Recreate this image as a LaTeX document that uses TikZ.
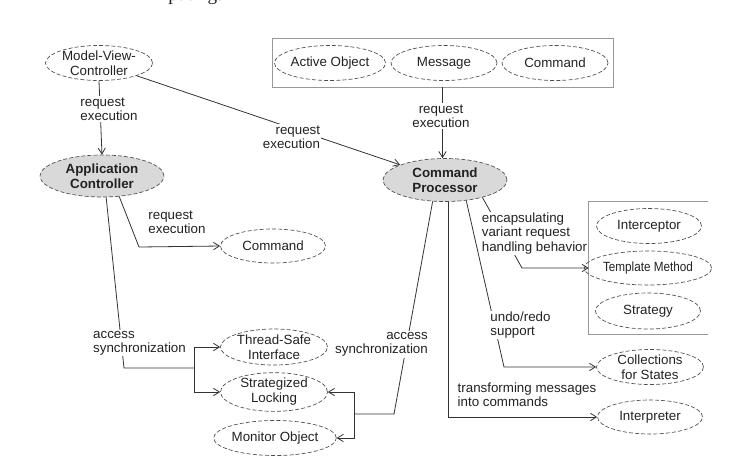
\documentclass[tikz,border=0pt]{standalone}
\usepackage{fontspec}
\setmainfont{Liberation Sans}
\newfontfamily\serifbook{Liberation Serif}
\usepackage{graphicx}
\usetikzlibrary{shapes.geometric,arrows.meta}
\definecolor{inkc}{HTML}{222222}
\definecolor{linec}{HTML}{333333}
\definecolor{dashc}{HTML}{4D4D4D}
\definecolor{boxc}{HTML}{999999}
\definecolor{fillc}{HTML}{D9D9D9}
\begin{document}
\begin{tikzpicture}[x=0.75pt,y=-0.75pt,
 el/.style 2 args={ellipse,draw=dashc,dash pattern=on 3pt off 1.6pt,line width=0.5pt,
   minimum width={#1*0.75pt},minimum height={#2*0.75pt},inner sep=0pt,align=center,
   font=\fontsize{10}{11.2}\selectfont,text=inkc},
 keyel/.style={fill=fillc,font=\fontsize{10}{11.2}\selectfont\bfseries},
 lbl/.style={fill=white,inner sep=0.8pt,font=\fontsize{10}{10.6}\selectfont,text=inkc},
 conn/.style={draw=linec,line width=0.6pt},
 arr/.style={conn,-{Straight Barb[length=4.5pt,width=5.5pt]}},
 grp/.style={draw=boxc,line width=0.6pt}]
\useasboundingbox (0,0) rectangle (756,469);

% cut-off text at the top
\node[anchor=base west,inner sep=0pt,font=\serifbook\fontsize{14.4}{16}\selectfont,text=inkc] (topt) at (168,0.8) {puting.};

% group boxes
\node[grp,rectangle,minimum width={341*0.75pt},minimum height={49*0.75pt},inner sep=0pt] (box1) at (442.5,62.5) {};
\node[rectangle,minimum width={119*0.75pt},minimum height={132*0.75pt},inner sep=0pt] (box2) at (648.5,268) {};
\draw[grp] (box2.north east) -- (box2.north west) -- (box2.south west) -- (box2.south east);

% nodes
\node[el={107}{35}] (mvc) at (99,63) {Model-View-\\Controller};
\node[el={124}{42},keyel] (ac) at (102,176) {Application\\Controller};
\node[el={105}{35}] (ao) at (330,63) {Active Object};
\node[el={106}{35}] (msg) at (444,63) {Message};
\node[el={106}{35}] (cmdT) at (555,63) {Command};
\node[el={124}{43},keyel] (cp) at (445,180) {Command\\Processor};
\node[el={105}{34}] (cmdM) at (273,246) {Command};
\node[el={107}{36}] (tsi) at (274,347) {Thread-Safe\\Interface};
\node[el={107}{35}] (sl) at (274,392) {Strategized\\Locking};
\node[el={105}{35}] (mo) at (275,438) {Monitor Object};
\node[el={105}{35}] (ic) at (649,226) {Interceptor};
\node[el={105}{34}] (tm) at (648,268) {\scalebox{0.88}[1]{Template Method}};
\node[el={105}{36}] (st) at (648,311) {Strategy};
\node[el={107}{35}] (cs) at (650,367) {Collections\\for States};
\node[el={105}{34}] (ip) at (650,417) {Interpreter};

% connectors
\draw[arr] (mvc.south) -- (ac.north);
\node[lbl,align=left] (l1) at (109,109) {request\\execution};

\draw[arr] (mvc) -- (cp);
\node[lbl,align=right] (l2) at (291.5,137) {request\\execution};

\draw[arr] (box1.south) -- (box1.south |- cp.north);
\node[lbl,align=center] (l3) at (441,116) {request\\execution};

\coordinate (b1) at (139,247);
\draw[arr] (ac.-50) -- (b1) -- (cmdM.west);
\node[lbl,align=left] (l4) at (177,222) {request\\execution};

\coordinate (k1) at (124,368);
\coordinate (j1) at (194,368);
\draw[conn] (ac.-79) -- (k1) -- (j1);
\draw[arr] (j1) |- (tsi.west);
\draw[arr] (j1) |- (sl.west);
\node[lbl,align=left] (l5) at (139.5,343) {access\\synchronization};

\coordinate (k2) at (394,414);
\coordinate (j2) at (354,414);
\draw[conn] (cp.-120) -- (k2) -- (j2);
\draw[arr] (j2) |- (sl.east);
\draw[arr] (j2) |- (mo.east);
\node[lbl,align=right] (l6) at (381.5,344.5) {access\\synchronization};

\coordinate (k4) at (522,268);
\draw[arr] (cp.-25) -- (k4) -- (box2.west);
\node[lbl,align=left] (l7) at (534.5,233.5) {encapsulating\\variant request\\handling behavior};

\coordinate (k3) at (504,367);
\draw[arr] (cp.-44) -- (k3) -- (cs.west);
\node[lbl,align=left] (l8) at (520.5,325) {undo/redo\\support};

\draw[arr] (cp.-82) |- (ip.west);
\node[lbl,align=left] (l9) at (527,395) {transforming messages\\into commands};
\end{tikzpicture}
\end{document}
